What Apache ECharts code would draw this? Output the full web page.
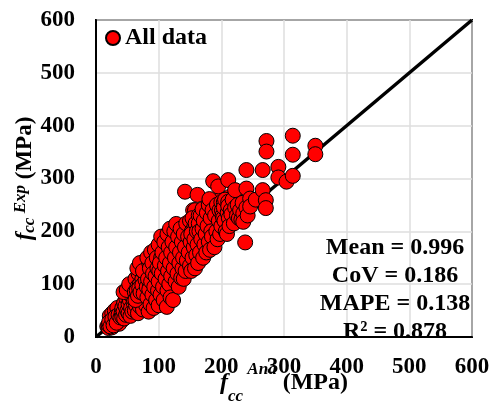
<!DOCTYPE html>
<html>
<head>
<meta charset="utf-8">
<script src="https://cdn.jsdelivr.net/npm/echarts@6/dist/echarts.min.js"></script>
<style>
  html, body { margin: 0; padding: 0; background: #fff; }
  #chart { width: 489px; height: 403px; }
</style>
</head>
<body>
<div id="chart"></div>
<script>
var FONT = "'Liberation Serif', 'Times New Roman', serif";

var axisTicks = [0, 100, 200, 300, 400, 500, 600];

// [fcc Ana, fcc Exp] in MPa
var allData = [
  [18,20],[20,17],[22,25],[24,22],[25,30],[27,20],[28,27],[30,35],[30,24],[32,30],
  [33,40],[35,28],[35,45],[36,35],[38,32],[38,50],[40,42],[40,30],[22,40],[26,45],
  [30,50],[34,55],[37,25],[25,18],[20,23],[36,35],
  [21,28],[23,20],[26,33],[28,22],[31,38],[33,27],[36,42],[39,37],[41,46],[43,40],
  [46,52],[49,47],[51,58],[53,52],[57,63],[59,58],[44,60],[48,65],[55,72],[61,80],
  [42,38],[42,55],[44,48],[45,35],[45,65],[47,58],[48,42],[48,75],[50,50],[50,88],
  [52,45],[52,62],[54,70],[55,40],[55,80],[56,55],[58,48],[58,95],[60,65],[60,72],
  [44,85],[49,89],[53,100],
  [62,50],[62,85],[63,110],[64,60],[65,75],[66,95],[67,45],[68,120],[68,70],[70,58],
  [70,100],[72,80],[72,130],[73,65],[74,110],[75,52],[76,90],[77,143],[78,70],[78,120],
  [80,60],[80,100],[79,135],[66,130],[70,140],
  [63,70],[65,88],[67,78],[69,92],[71,85],[74,98],[76,82],[79,108],[81,95],[84,118],
  [86,100],[89,125],[91,110],[94,130],[96,118],[99,140],[75,125],[85,140],[92,150],
  [82,75],[82,150],[83,110],[84,48],[85,90],[86,130],[87,62],[88,160],[88,105],[90,80],
  [90,140],[91,120],[92,55],[93,95],[94,165],[95,115],[96,70],[97,150],[98,130],[99,88],
  [100,60],[100,175],[100,105],
  [101,125],[104,150],[106,135],[109,160],[111,145],[114,165],[116,150],[119,175],[121,160],[124,185],
  [126,170],[129,195],[131,175],[134,190],[136,165],[139,205],[141,185],[144,200],[146,175],[149,210],
  [102,140],[103,80],[104,190],[105,120],[106,160],[107,95],[108,70],[109,180],[110,135],[111,110],
  [112,150],[113,57],[114,195],[114,88],[115,125],[116,170],[117,100],[118,140],[118,205],[119,75],
  [120,160],[120,115],[123,70],
  [122,180],[124,130],[125,200],[126,150],[127,105],[128,214],[128,170],[130,120],[131,190],[132,95],
  [133,140],[134,160],[135,205],[136,112],[137,180],[138,130],[139,150],[140,195],[140,110],[142,275],
  [142,170],[143,125],[144,215],[145,145],[147,190],[148,160],[150,135],[150,220],[151,180],
  [152,125],[153,200],[154,150],[155,240],[156,170],[157,210],[158,240],[158,130],[160,190],
  [160,155],
  [152,195],[154,225],[157,185],[159,215],[161,200],[164,230],[166,210],[169,225],[171,195],[174,240],
  [176,215],[179,230],[183,245],[185,215],[188,235],[191,245],[194,225],[197,260],[199,235],
  [162,269],[162,175],[163,140],[164,215],[165,200],[166,160],[167,230],[168,185],[170,242],
  [170,205],[171,150],[172,220],[173,175],[175,195],[176,160],[177,235],[178,210],[180,180],[180,250],
  [181,261],[182,165],[183,225],[184,200],[185,190],[186,240],[187,295],[189,170],
  [190,230],[192,200],[193,250],[194,185],[195,285],[196,220],[197,240],[198,195],[200,210],[200,255],
  [201,240],[204,255],[207,235],[210,245],[213,265],[216,250],[219,240],[223,255],[227,240],[231,255],
  [202,230],[203,225],[204,245],[205,220],[206,260],[207,200],[209,195],[210,235],[211,297],[211,256],
  [211,248],[212,225],[213,210],[215,240],[216,232],[218,260],[220,215],[222,278],[222,245],
  [225,230],[226,250],[228,225],[230,240],[232,222],[234,254],[235,234],[235,218],[238,179],[240,316],
  [240,281],[240,245],[242,230],[246,262],[246,247],
  [255,260],[266,316],[266,278],[271,259],[271,244],[272,371],[272,351],
  [291,322],[291,302],[304,294],[314,305],[314,381],[314,345],[350,362],[350,346]
];

var diagonal = [[0, 0], [600, 600]];

var stats = ['Mean = 0.996', 'CoV = 0.186', 'MAPE = 0.138', 'R\u00b2 = 0.878'];

var chart = echarts.init(document.getElementById('chart'), null, { renderer: 'canvas' });

function nameRich(mainSize, subSize, lineH) {
  return {
    f: { fontFamily: FONT, fontStyle: 'italic', fontWeight: 'bold', fontSize: mainSize, verticalAlign: 'middle', color: '#000' },
    sub: { fontFamily: FONT, fontStyle: 'italic', fontWeight: 'bold', fontSize: subSize, verticalAlign: 'bottom', color: '#000' },
    sup: { fontFamily: FONT, fontStyle: 'italic', fontWeight: 'bold', fontSize: subSize, verticalAlign: 'top', color: '#000' },
    n: { fontFamily: FONT, fontWeight: 'bold', fontSize: mainSize, lineHeight: lineH, verticalAlign: 'middle', color: '#000' }
  };
}

function axisBase() {
  return {
    type: 'value',
    min: 0,
    max: 600,
    interval: 100,
    axisLine: { show: true, onZero: false, lineStyle: { color: '#000', width: 2 } },
    axisTick: { show: false },
    splitLine: { show: true, lineStyle: { color: '#dedede', width: 1.5 } },
    axisLabel: {
      fontFamily: FONT, fontWeight: 'bold', fontSize: 23, color: '#000',
      formatter: function (v) { return axisTicks.indexOf(v) >= 0 ? String(v) : ''; }
    },
    nameLocation: 'middle',
    nameMoveOverlap: false
  };
}

var xAxis = axisBase();
xAxis.name = '{f|f}{sub|cc}{sup| Ana}{n| (MPa)}';
xAxis.nameGap = 24;
xAxis.nameTextStyle = { rich: nameRich(24, 17, 44) };
xAxis.axisLabel.margin = 19;

var yAxis = axisBase();
yAxis.name = '{f|f}{sub|cc}{sup| Exp}{n| (MPa)}';
yAxis.nameGap = 58;
yAxis.nameTextStyle = { rich: nameRich(23, 17, 26) };
yAxis.axisLabel.margin = 21;

chart.setOption({
  animation: false,
  backgroundColor: '#fff',
  grid: {
    left: 96, top: 20, right: 17, bottom: 66,
    outerBoundsMode: 'none',
    show: true, borderColor: '#000', borderWidth: 2, backgroundColor: 'transparent'
  },
  legend: {
    data: ['All data'],
    left: 100,
    top: 21,
    icon: 'circle',
    itemWidth: 14,
    itemHeight: 14,
    textStyle: { fontFamily: FONT, fontWeight: 'bold', fontSize: 24, lineHeight: 24, color: '#000' }
  },
  xAxis: xAxis,
  yAxis: yAxis,
  series: [
    {
      type: 'line',
      data: diagonal,
      showSymbol: false,
      symbol: 'none',
      silent: true,
      z: 1,
      lineStyle: { color: '#000', width: 3.5 }
    },
    {
      name: 'All data',
      type: 'scatter',
      data: allData,
      symbolSize: 15,
      z: 2,
      itemStyle: { color: '#ff0000', borderColor: '#000', borderWidth: 1, opacity: 1 }
    }
  ],
  graphic: stats.map(function (s, i) {
    return {
      type: 'text',
      x: 395,
      y: 248 + i * 28,
      z: 10,
      style: {
        text: s,
        align: 'center',
        verticalAlign: 'middle',
        fontFamily: FONT, fontWeight: 'bold', fontSize: 24, fill: '#000'
      }
    };
  })
});
</script>
</body>
</html>
